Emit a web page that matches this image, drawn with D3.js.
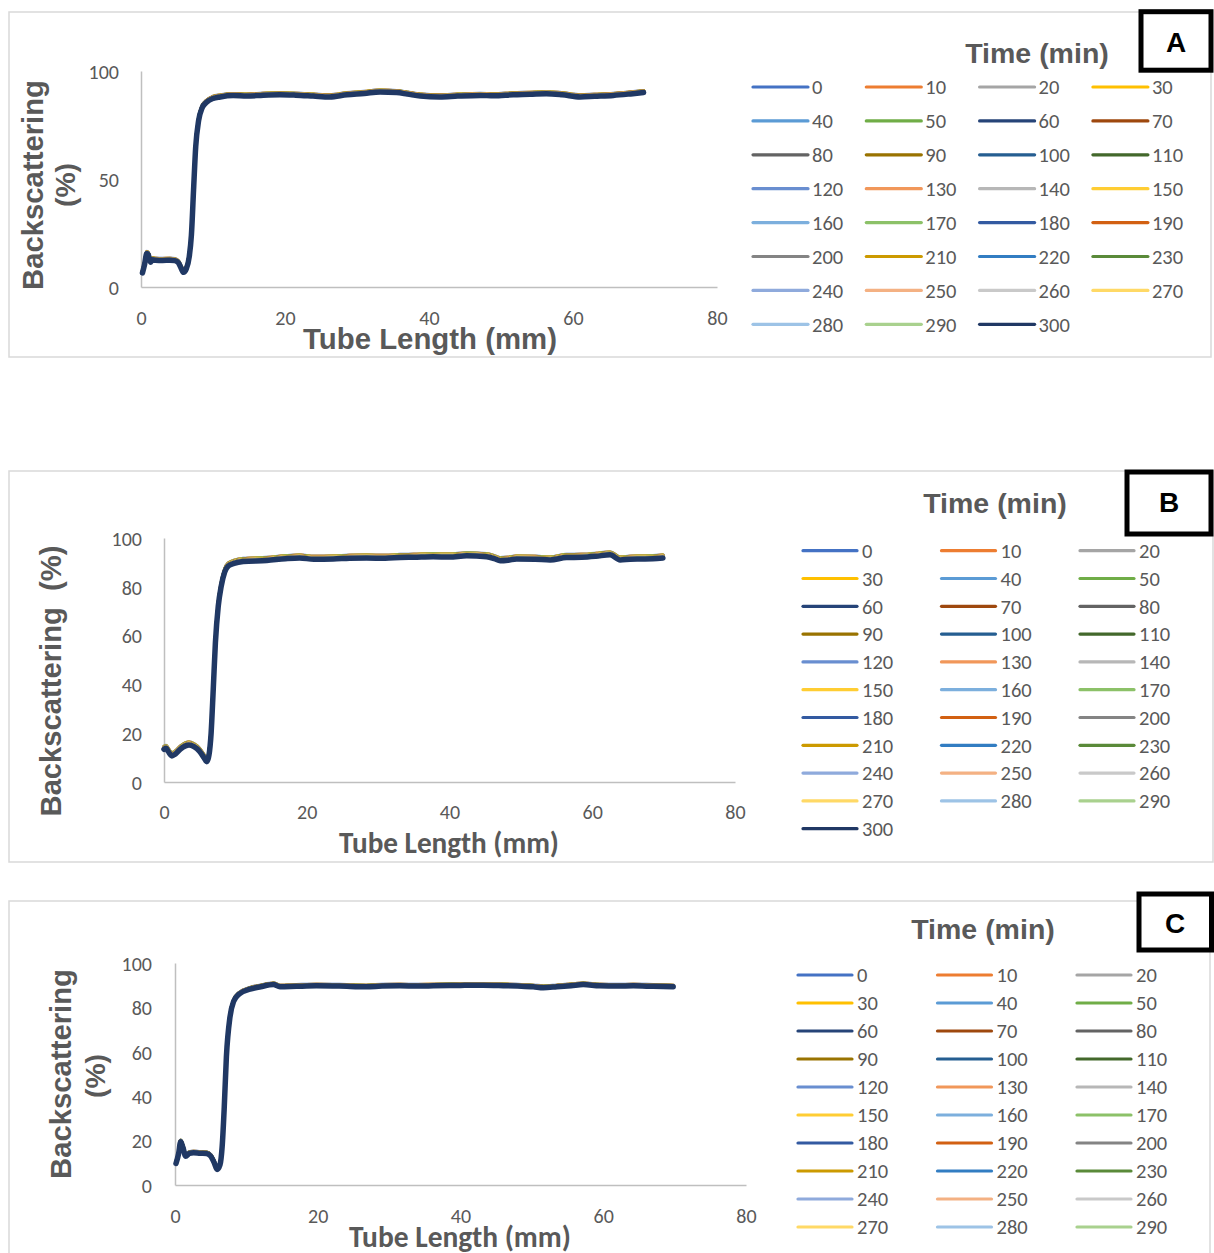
<!DOCTYPE html>
<html>
<head>
<meta charset="utf-8">
<script src="https://cdn.jsdelivr.net/npm/d3@7"></script>
<style>
  html, body { margin: 0; padding: 0; background: #ffffff; }
  svg { display: block; }
</style>
</head>
<body>
<svg id="chart" width="1214" height="1253"></svg>
<script>
// ---------------- DATA ----------------
const times = [0,10,20,30,40,50,60,70,80,90,100,110,120,130,140,150,160,170,180,190,200,210,220,230,240,250,260,270,280,290,300];
const xTicks = [0,20,40,60,80];
const yTicksA = [0,50,100];
const yTicksBC = [0,20,40,60,80,100];

// Tube length (mm) and backscattering (%) of the 300 min profile, panel A
const mmA = [0.2,0.5,0.8,1.0,1.3,1.6,2.0,3.0,4.0,4.7,5.2,5.6,5.9,6.3,6.7,7.0,7.3,7.6,8.0,8.5,9.1,10.0,11.0,12.8,14.7,17.0,19.3,21.5,23.9,26.2,28.6,31.0,33.2,35.5,37.0,38.8,41.5,44.0,47.1,49.0,51.7,54.0,56.3,58.5,61.0,63.0,65.6,68.0,69.8];
const bsA = [6.5,10.5,15.5,15.0,11.5,12.6,12.4,12.3,12.4,12.2,11.2,8.5,6.8,8.5,14,24,45,65,77,83,85.5,87.3,88.0,88.6,88.4,88.8,89.0,88.8,88.4,88.0,89.0,89.6,90.3,90.0,89.3,88.4,88.0,88.4,88.7,88.5,89.0,89.2,89.5,89.0,88.0,88.3,88.7,89.4,90.0];

// panel B
const mmB = [0.0,0.3,0.6,1.1,1.6,2.3,3.0,3.5,4.2,5.0,5.6,6.0,6.3,6.6,6.9,7.2,7.6,8.0,8.5,9.0,9.8,11.1,14.4,17.0,19.0,21.0,23.7,26.0,28.4,31.0,33.1,35.0,37.7,40.0,42.4,45.2,46.3,47.1,48.2,49.4,52.0,54.1,56.4,58.5,60.5,62.5,63.9,65.3,66.7,68.5,69.9];
const bsB = [13.4,13.8,12.5,10.7,11.5,13.5,14.8,15.2,14.5,12.5,10.0,8.3,11,20,38,57,72,80,86,88.5,89.6,90.4,90.8,91.5,91.8,91.3,91.4,91.7,91.8,91.7,92.0,92.1,92.3,92.2,92.7,92.3,91.5,90.7,90.9,91.4,91.3,91.0,92.0,92.1,92.5,93.1,91.0,91.3,91.4,91.5,91.8];

// panel C
const mmC = [0.14,0.5,0.8,1.1,1.5,2.0,2.6,3.5,4.4,5.0,5.5,5.9,6.3,6.6,6.9,7.2,7.7,8.2,9.0,10.5,12.0,13.8,14.7,17.0,19.8,23.0,26.8,29.0,31.5,34.0,36.2,40.0,43.2,46.0,48.0,50.2,51.6,53.5,55.5,57.2,59.5,62.0,64.2,67.0,69.8];
const bsC = [9.7,14,19.5,17,13,14.2,14.5,14.3,14.2,13,10,7,9,17,35,57.7,75.6,82.6,86,88.2,89.3,90.3,89.3,89.5,89.7,89.6,89.3,89.6,89.7,89.6,89.7,89.9,90.0,89.8,89.6,89.3,88.9,89.3,89.8,90.3,89.7,89.6,89.7,89.5,89.3];

// per-time-step offset (%) of each profile above the 300 min profile
const offA = [0.9,0.8,0.7,0.8,0.6,0.7,0.3,0.6,0.5,0.6,0.3,0.4,0.5,0.6,0.4,0.5,0.3,0.4,0.2,0.4,0.3,0.3,0.1,0.3,0.2,0.3,0.2,0.2,0.1,0.1,0];
const offB = [1.2,1.1,1.0,1.1,0.9,1.0,0.5,0.8,0.7,0.8,0.4,0.6,0.7,0.8,0.6,0.7,0.5,0.6,0.3,0.5,0.4,0.5,0.2,0.4,0.3,0.4,0.2,0.3,0.2,0.2,0];
const offC = [0.7,0.6,0.5,0.6,0.5,0.5,0.2,0.4,0.4,0.5,0.2,0.3,0.4,0.4,0.3,0.4,0.2,0.3,0.1,0.3,0.2,0.2,0.1,0.2,0.1,0.2,0.1,0.1,0.1,0.1,0];

// series colours (Excel office palette)
const palette = ["#4472C4","#ED7D31","#A5A5A5","#FFC000","#5B9BD5","#70AD47","#264478","#9E480E","#636363","#997300","#255E91","#43682B","#698ED0","#F1975A","#B7B7B7","#FFCD33","#7CAFDD","#8CC168","#335AA1","#D26012","#848484","#CC9A00","#327DC2","#5A8A39","#8FAADC","#F4B183","#C9C9C9","#FFD966","#9DC3E6","#A9D18E","#203864"];

// ---------------- LAYOUT ----------------
const GRAY = "#595959";
const ARIAL = "'Liberation Sans', Arial, sans-serif";
const CALIBRI = "Carlito, Calibri, Lato, sans-serif";

const panels = [
  { id:"A", mm:mmA, bs:bsA, off:offA, yTicks:yTicksA,
    frame:{x:9,y:12,w:1202,h:345},
    plot:{l:141,r:717,t:71,b:287}, yLabGap:22, xLabY:318,
    xTitle:{x:430,y:338,w:254,font:ARIAL},
    yTitle:[{t:"Backscattering",x:32,y:185,w:210},{t:"(%)",x:65,y:185,w:44}],
    legTitle:{x:1037,y:53},
    leg:{cols:4,x0:753,dx:113.3,y0:87,dy:33.9,len:55,gap:4},
    box:{x:1141,y:11.7,w:70,h:58.5,lx:1176,ly:42} },
  { id:"B", mm:mmB, bs:bsB, off:offB, yTicks:yTicksBC,
    frame:{x:9,y:471,w:1204,h:391},
    plot:{l:164,r:735,t:538,b:782}, yLabGap:22, xLabY:812,
    xTitle:{x:449,y:842,w:220,font:CALIBRI},
    yTitle:[{t:"Backscattering\u00a0\u00a0(%)",x:50,y:681,w:271}],
    legTitle:{x:995,y:503},
    leg:{cols:3,x0:803,dx:138.5,y0:550.7,dy:27.8,len:54,gap:5},
    box:{x:1127,y:472,w:84,h:62,lx:1169,ly:502} },
  { id:"C", mm:mmC, bs:bsC, off:offC, yTicks:yTicksBC,
    frame:{x:9,y:901,w:1201,h:400},
    plot:{l:175,r:746,t:963,b:1185}, yLabGap:23, xLabY:1216,
    xTitle:{x:460,y:1236,w:222,font:CALIBRI},
    yTitle:[{t:"Backscattering",x:60,y:1074,w:210},{t:"(%)",x:95,y:1076,w:44}],
    legTitle:{x:983,y:929},
    leg:{cols:3,x0:798,dx:139.5,y0:975,dy:28,len:54,gap:5, clipBottom:1244},
    box:{x:1139,y:894,w:72.5,h:56,lx:1175,ly:923} }
];

const svg = d3.select("#chart");
svg.append("rect").attr("width",1214).attr("height",1253).attr("fill","#fff");
const defs = svg.append("defs");

function fitWidth(sel, target) {
  const L = sel.node().getComputedTextLength();
  const fs = parseFloat(sel.attr("font-size"));
  if (L > 0) sel.attr("font-size", (fs * target / L).toFixed(2));
}

panels.forEach(p => {
  const g = svg.append("g").attr("class", "panel-" + p.id);

  // frame
  g.append("rect").attr("x",p.frame.x).attr("y",p.frame.y)
    .attr("width",p.frame.w).attr("height",p.frame.h)
    .attr("fill","none").attr("stroke","#d9d9d9").attr("stroke-width",1.5);

  const x = d3.scaleLinear().domain([0,80]).range([p.plot.l,p.plot.r]);
  const y = d3.scaleLinear().domain([0,100]).range([p.plot.b,p.plot.t]);

  // axes
  const xAxis = d3.axisBottom(x).tickValues(xTicks).tickSize(0).tickPadding(0);
  const yAxis = d3.axisLeft(y).tickValues(p.yTicks).tickSize(0).tickPadding(0);

  const gx = g.append("g").attr("transform",`translate(0,${p.plot.b})`).call(xAxis);
  gx.select(".domain").attr("stroke","#bfbfbf").attr("stroke-width",1.5);
  gx.selectAll("text").attr("fill",GRAY).attr("font-family",CALIBRI).attr("font-size",20)
    .attr("y", p.xLabY - p.plot.b).attr("dy","0.36em");

  const gy = g.append("g").attr("transform",`translate(${p.plot.l},0)`).call(yAxis);
  gy.select(".domain").attr("stroke","#bfbfbf").attr("stroke-width",1.5);
  gy.selectAll("text").attr("fill",GRAY).attr("font-family",CALIBRI).attr("font-size",20)
    .attr("x", -p.yLabGap).attr("dy","0.36em");

  // series lines
  const line = d3.line().x(d => x(d[0])).y(d => y(d[1])).curve(d3.curveMonotoneX);
  const series = times.map((t, i) => ({
    t, color: palette[i],
    pts: p.mm.map((m, k) => [m, p.bs[k] + p.off[i]])
  }));
  g.append("g").selectAll("path").data(series).join("path")
    .attr("d", d => line(d.pts))
    .attr("fill","none")
    .attr("stroke", d => d.color)
    .attr("stroke-width", (d,i) => i === series.length - 1 ? 5.5 : 3.5)
    .attr("stroke-linejoin","round").attr("stroke-linecap","round");

  // axis titles
  const xt = g.append("text").text("Tube Length (mm)")
    .attr("x",p.xTitle.x).attr("y",p.xTitle.y).attr("dy","0.36em")
    .attr("text-anchor","middle").attr("font-family",p.xTitle.font)
    .attr("font-weight","bold").attr("font-size",28).attr("fill",GRAY);
  fitWidth(xt, p.xTitle.w);

  p.yTitle.forEach(yt => {
    const tEl = g.append("text").text(yt.t)
      .attr("transform",`translate(${yt.x},${yt.y}) rotate(-90)`)
      .attr("dy","0.36em").attr("text-anchor","middle")
      .attr("font-family",ARIAL).attr("font-weight","bold")
      .attr("font-size",29).attr("fill",GRAY);
    fitWidth(tEl, yt.w);
  });

  // legend
  g.append("text").text("Time (min)")
    .attr("x",p.legTitle.x).attr("y",p.legTitle.y).attr("dy","0.36em")
    .attr("text-anchor","middle").attr("font-family",ARIAL)
    .attr("font-weight","bold").attr("font-size",28.5).attr("fill",GRAY);

  const L = p.leg;
  const legG = g.append("g");
  if (L.clipBottom) {
    const cid = "legclip-" + p.id;
    defs.append("clipPath").attr("id", cid).append("rect")
      .attr("x", p.frame.x).attr("y", p.frame.y).attr("width", p.frame.w)
      .attr("height", L.clipBottom - p.frame.y);
    legG.attr("clip-path", `url(#${cid})`);
  }
  const items = legG.selectAll("g").data(series).join("g")
    .attr("transform",(d,i) => `translate(${L.x0 + (i % L.cols) * L.dx},${L.y0 + Math.floor(i / L.cols) * L.dy})`);
  items.append("line").attr("x1",0).attr("x2",L.len).attr("y1",0).attr("y2",0)
    .attr("stroke",d => d.color).attr("stroke-width",3.2).attr("stroke-linecap","round");
  items.append("text").text(d => d.t)
    .attr("x",L.len + L.gap).attr("y",0).attr("dy","0.36em")
    .attr("font-family",CALIBRI).attr("font-size",20.5).attr("fill",GRAY);

  // panel label box
  g.append("rect").attr("x",p.box.x).attr("y",p.box.y).attr("width",p.box.w).attr("height",p.box.h)
    .attr("fill","#fff").attr("stroke","#000").attr("stroke-width",5);
  g.append("text").text(p.id).attr("x",p.box.lx).attr("y",p.box.ly).attr("dy","0.36em")
    .attr("text-anchor","middle").attr("font-family",ARIAL).attr("font-weight","bold")
    .attr("font-size",28).attr("fill","#000");
});
</script>
</body>
</html>
